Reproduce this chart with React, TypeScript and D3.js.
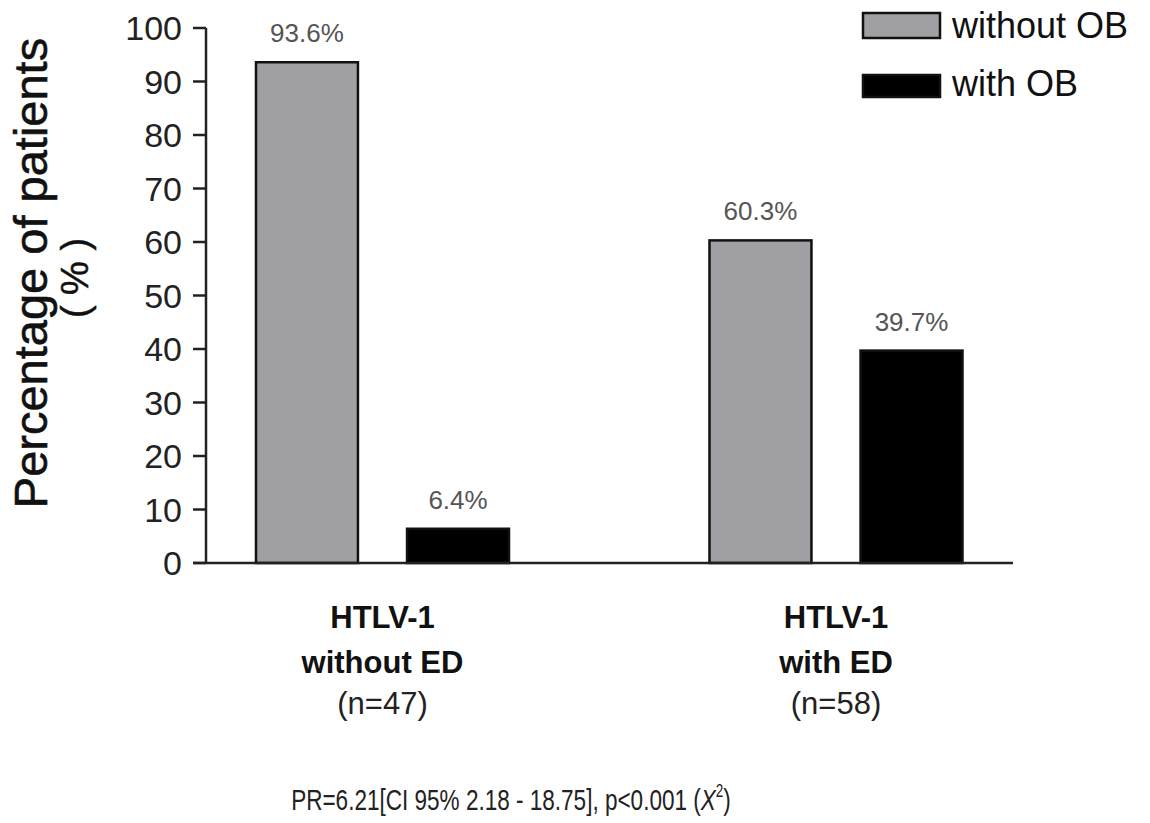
import React, { useEffect, useRef } from "react";
import * as d3 from "d3";

const groups = ["HTLV-1 without ED", "HTLV-1 with ED"];
const groupLines = [
  ["HTLV-1", "without ED", "(n=47)"],
  ["HTLV-1", "with ED", "(n=58)"],
];
const series = ["without OB", "with OB"];
const withoutOB = [93.6, 60.3];
const withOB = [6.4, 39.7];
const valueLabels = [["93.6%", "6.4%"], ["60.3%", "39.7%"]];
const yTicks = [0, 10, 20, 30, 40, 50, 60, 70, 80, 90, 100];
const colors = ["#a0a0a4", "#000000"];
const footnote = "PR=6.21[CI 95% 2.18 - 18.75], p<0.001 (";

export default function App() {
  const footRef = useRef<SVGTextElement>(null);
  const W = 1150, H = 823;
  const y = d3.scaleLinear().domain([0, 100]).range([563, 28]);
  const x = d3.scalePoint().domain(groups).range([382.5, 836]);
  const xs = d3.scaleBand().domain(series).range([-126.5, 126.5]).paddingInner(0.325).paddingOuter(0);
  const axisX = 206;
  const vals = [withoutOB, withOB];

  useEffect(() => {
    const el = footRef.current;
    if (!el) return;
    el.removeAttribute("transform");
    const bb = el.getBBox();
    const target = 440;
    const s = target / bb.width;
    const cx = 511;
    el.setAttribute("transform", `translate(${cx},0) scale(${s},1) translate(${-cx},0)`);
  }, []);

  const font = "Arial, 'Liberation Sans', sans-serif";

  return (
    <svg width={W} height={H} style={{ position: "absolute", left: 0, top: 0, background: "#fff" }} fontFamily={font}>
      <rect x={0} y={0} width={W} height={H} fill="#fff" />
      {/* bars */}
      {groups.map((g, gi) =>
        series.map((s, si) => {
          const v = vals[si][gi];
          const bx = (x(g) as number) + (xs(s) as number);
          const bw = xs.bandwidth();
          return (
            <g key={g + s}>
              <rect x={bx} y={y(v)} width={bw} height={y(0) - y(v)} fill={colors[si]} stroke="#111" strokeWidth={2.5} />
              <text x={bx + bw / 2} y={y(v) - 20} textAnchor="middle" fontSize={26} fill="#555">
                {valueLabels[gi][si]}
              </text>
            </g>
          );
        })
      )}
      {/* y axis */}
      <line x1={axisX} x2={axisX} y1={y(100)} y2={y(0)} stroke="#222" strokeWidth={2.5} />
      {yTicks.map((t) => (
        <g key={t}>
          <line x1={axisX - 13} x2={axisX} y1={y(t)} y2={y(t)} stroke="#222" strokeWidth={2.5} />
          <text x={axisX - 24} y={y(t)} dy="0.36em" textAnchor="end" fontSize={34} fill="#222">
            {t}
          </text>
        </g>
      ))}
      {/* x axis */}
      <line x1={193} x2={1013} y1={y(0)} y2={y(0)} stroke="#222" strokeWidth={2.5} />
      {/* y title */}
      <text transform={`translate(47,273) rotate(-90)`} textAnchor="middle" fontSize={47} fill="#111" stroke="#111" strokeWidth={0.6}>
        Percentage of patients
      </text>
      <text transform={`translate(88,278) rotate(-90)`} textAnchor="middle" fontSize={38} fill="#111" stroke="#111" strokeWidth={0.5}>
        ( % )
      </text>
      {/* category labels */}
      {groups.map((g, gi) => (
        <g key={g}>
          <text x={x(g) as number} y={628} textAnchor="middle" fontSize={31} fontWeight="bold" fill="#111">
            {groupLines[gi][0]}
          </text>
          <text x={x(g) as number} y={673} textAnchor="middle" fontSize={31} fontWeight="bold" fill="#111">
            {groupLines[gi][1]}
          </text>
          <text x={x(g) as number} y={714} textAnchor="middle" fontSize={31} fill="#222">
            {groupLines[gi][2]}
          </text>
        </g>
      ))}
      {/* legend */}
      {series.map((s, si) => (
        <g key={s}>
          <rect x={863} y={13 + si * 62} width={77} height={si === 0 ? 25 : 22} fill={colors[si]} stroke="#111" strokeWidth={2.5} />
          <text x={952} y={38 + si * 58} fontSize={36} fill="#111">
            {s}
          </text>
        </g>
      ))}
      {/* footnote */}
      <text ref={footRef} x={511} y={810} textAnchor="middle" fontSize={30} fill="#222">
        {footnote}
        <tspan fontStyle="italic">X</tspan>
        <tspan fontSize={18} dy={-13}>2</tspan>
        <tspan dy={13}>)</tspan>
      </text>
    </svg>
  );
}
